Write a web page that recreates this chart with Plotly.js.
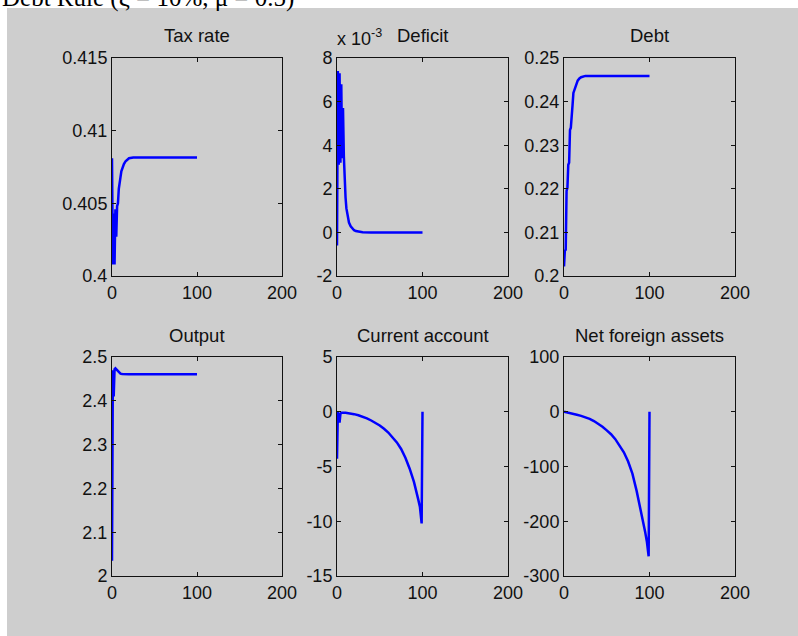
<!DOCTYPE html>
<html>
<head>
<meta charset="utf-8">
<script src="https://cdn.plot.ly/plotly-3.0.1.min.js"></script>
<style>html,body{margin:0;padding:0;background:#fff;}#chart{width:798px;height:636px;}</style>
</head>
<body>
<div id="chart"></div>
<script>
// ---- data ----
const figTitle = "Debt Rule (ξ = 10%, μ = 0.5)";
const panelTitles = ["Tax rate", "Deficit", "Debt", "Output", "Current account", "Net foreign assets"];

const taxT = [0,1,2,3,4,5,6,7,8,9,10,11,12,14,16,18,20,25,30,50,75,100];
const taxV = [0.4081,0.4008,0.4043,0.4008,0.4046,0.4027,0.4048,0.4050,0.4060,0.4063,0.4068,0.4072,0.4074,0.4077,0.4079,0.4080,0.4081,0.40815,0.40815,0.40815,0.40815,0.40815];

const defT = [0,1,2,3,4,5,6,7,8,9,10,11,12,13,14,16,18,20,22,25,30,40,100];
const defV = [-0.0006,0.0074,0.0031,0.0073,0.0032,0.0068,0.0034,0.0057,0.0035,0.0021,0.0016,0.0011,0.0008,0.0006,0.00045,0.00028,0.00018,0.0001,0.00006,0.00003,0.00001,0,0];

const debtT = [0,1,2,3,4,5,6,7,8,9,10,11,12,14,16,18,20,25,30,100];
const debtV = [0.2022,0.2058,0.2060,0.2195,0.2202,0.2255,0.2260,0.2335,0.2340,0.2385,0.2392,0.2420,0.2426,0.2440,0.2448,0.2453,0.2456,0.2459,0.2459,0.2459];

const outT = [0,1,2,3,4,5,6,7,8,10,12,15,20,100];
const outV = [2.035,2.470,2.410,2.472,2.474,2.472,2.469,2.466,2.464,2.462,2.461,2.4605,2.4605,2.4605];

const caT = [0,1,2,3,4,5,10,15,20,25,30,35,40,45,50,55,60,65,70,75,80,85,90,95,97,99,100];
const caV = [-4.3,0.0,-0.3,-1.0,-0.2,-0.1,-0.1,-0.15,-0.22,-0.32,-0.45,-0.6,-0.8,-1.0,-1.25,-1.55,-1.9,-2.35,-2.8,-3.4,-4.2,-5.2,-6.4,-8.0,-8.7,-10.2,0];

const nfaT = [0,5,10,15,20,25,30,35,40,45,50,55,60,65,70,75,80,85,90,95,97,99,100];
const nfaV = [0,-1.5,-3.5,-5.5,-7.5,-10,-13,-17,-22,-27.5,-34,-41,-50,-61,-74,-91,-113,-145,-180,-220,-238,-264,0];

// tick values / labels
const xTickVals = [0,100,200];
const xTickText = ["0","100","200"];
const taxTicks = [0.4,0.405,0.41,0.415];
const taxText = ["0.4","0.405","0.41","0.415"];
const defTicks = [-0.002,0,0.002,0.004,0.006,0.008];
const defText = ["-2","0","2","4","6","8"];
const debtTicks = [0.2,0.21,0.22,0.23,0.24,0.25];
const debtText = ["0.2","0.21","0.22","0.23","0.24","0.25"];
const outTicks = [2,2.1,2.2,2.3,2.4,2.5];
const outText = ["2","2.1","2.2","2.3","2.4","2.5"];
const caTicks = [-15,-10,-5,0,5];
const caText = ["-15","-10","-5","0","5"];
const nfaTicks = [-300,-200,-100,0,100];
const nfaText = ["-300","-200","-100","0","100"];

// ---- layout ----
const W = 798, H = 636;
const px = v => v / W;
const py = v => 1 - v / H;
const colDom = [[px(112), px(282)], [px(337), px(508)], [px(564), px(735)]];
const rowDom = [[py(276), py(58)], [py(576), py(357)]];
const FONT = "Liberation Sans, Arial, Helvetica, sans-serif";
const tickFont = {family: FONT, size: 18, color: "#111"};

const series = [
  [taxT, taxV, taxTicks, taxText],
  [defT, defV, defTicks, defText],
  [debtT, debtV, debtTicks, debtText],
  [outT, outV, outTicks, outText],
  [caT, caV, caTicks, caText],
  [nfaT, nfaV, nfaTicks, nfaText]
];

const data = [];
const layout = {
  width: W, height: H,
  margin: {l: 0, r: 0, t: 0, b: 0},
  paper_bgcolor: "#ffffff",
  plot_bgcolor: "#ffffff",
  showlegend: false,
  shapes: [{type: "rect", xref: "paper", yref: "paper", x0: px(7), x1: 1.01, y0: -0.01, y1: py(8),
            fillcolor: "#cecece", line: {width: 0}, layer: "below"}],
  annotations: []
};

series.forEach((s, i) => {
  const n = i + 1;
  const xa = "x" + (n === 1 ? "" : n), ya = "y" + (n === 1 ? "" : n);
  data.push({x: s[0], y: s[1], type: "scatter", mode: "lines", xaxis: xa, yaxis: ya,
             line: {color: "#0000ff", width: 2.5}, hoverinfo: "skip"});
  const col = i % 3, row = Math.floor(i / 3);
  const common = {showgrid: false, zeroline: false, showline: true, linecolor: "#111", linewidth: 1,
                  mirror: "ticks", ticks: "inside", ticklen: 4, tickcolor: "#111", tickwidth: 1,
                  tickfont: tickFont, fixedrange: true, tickmode: "array"};
  layout["xaxis" + (n === 1 ? "" : n)] = Object.assign({}, common, {
    domain: colDom[col], range: [0, 200], tickvals: xTickVals, ticktext: xTickText,
    anchor: ya, ticklabelstandoff: 0
  });
  layout["yaxis" + (n === 1 ? "" : n)] = Object.assign({}, common, {
    domain: rowDom[row], range: [s[2][0], s[2][s[2].length - 1]], tickvals: s[2], ticktext: s[3],
    anchor: xa
  });
  layout.annotations.push({
    text: panelTitles[i], xref: "paper", yref: "paper",
    x: (colDom[col][0] + colDom[col][1]) / 2, y: row === 0 ? py(35) : py(335),
    xanchor: "center", yanchor: "middle", showarrow: false,
    font: {family: FONT, size: 18.5, color: "#111"}
  });
});

// exponent label for Deficit panel
layout.annotations.push({
  text: "x 10<sup>-3</sup>", xref: "paper", yref: "paper", x: px(335), y: py(38),
  xanchor: "left", yanchor: "middle", showarrow: false,
  font: {family: FONT, size: 18, color: "#111"}
});
// figure title (cut off at the top edge, as in the reference)
layout.annotations.push({
  text: figTitle, xref: "paper", yref: "paper", x: 0, y: py(14),
  xanchor: "left", yanchor: "bottom", showarrow: false,
  font: {family: "Liberation Serif, Times New Roman, serif", size: 25, color: "#000"}
});

Plotly.newPlot("chart", data, layout, {staticPlot: true});
</script>
</body>
</html>
